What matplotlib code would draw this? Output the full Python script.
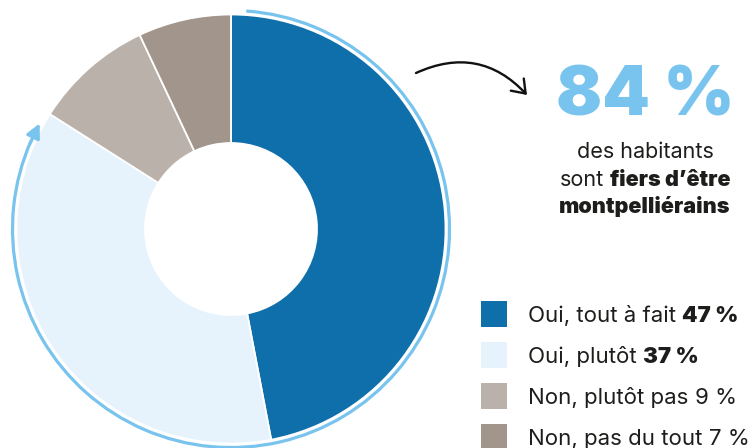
import matplotlib
matplotlib.use('Agg')
import numpy as np
import matplotlib.pyplot as plt
from matplotlib.patches import Arc, FancyArrowPatch, Rectangle

# data
labels = ['Oui, tout à fait', 'Oui, plutôt', 'Non, plutôt pas', 'Non, pas du tout']
values = [47, 37, 9, 7]
value_bold = [True, True, False, False]
colors = ['#0f6fab', '#e6f2fc', '#bab1ab', '#a2958c']
headline = 84
headline_lines = [[('des habitants', 'normal')],
                  [('sont', 'normal'), ('fiers d\u2019être', 900)],
                  [('montpelliérains', 900)]]

W, H = 752, 448
FONT = 'Inter'
TXT = '#1d1d1b'
ACCENT = '#79c4ee'

fig = plt.figure(figsize=(W/100, H/100), dpi=100)
ax = fig.add_axes([0, 0, 1, 1])

cx, cy = 231, H - 229
R = 214.5
hole = 86
ax.pie(values, colors=colors, startangle=90, counterclock=False, radius=R, center=(cx, cy),
       wedgeprops=dict(width=R - hole, edgecolor='white', linewidth=1.3))
ax.set_xlim(0, W)
ax.set_ylim(0, H)
ax.set_aspect('equal')
ax.axis('off')

# light blue arc round the "oui" share, with arrow at its end
ring_r = 218.5
a_start = 90 - 4
a_tip = 90 - (values[0] + values[1]) * 3.6 + 360 + 3.5
arc = Arc((cx, cy), 2*ring_r, 2*ring_r, theta1=a_tip + 5, theta2=a_start, color=ACCENT, lw=2.3)
ax.add_patch(arc)
def on_ring(a):
    return (cx + ring_r*np.cos(np.radians(a)), cy + ring_r*np.sin(np.radians(a)))
ax.annotate('', xy=on_ring(a_tip), xytext=on_ring(a_tip + 6),
            arrowprops=dict(arrowstyle='-|>,head_length=0.7,head_width=0.35', color=ACCENT,
                            lw=2.3, mutation_scale=12, shrinkA=0, shrinkB=0))

# black curved arrow
ax.add_patch(FancyArrowPatch((416, H - 73), (527, H - 95), connectionstyle='arc3,rad=-0.36',
                             arrowstyle='->,head_length=0.55,head_width=0.4', mutation_scale=16,
                             lw=1.7, color='#111111', shrinkA=0, shrinkB=0))

# headline
ax.text(645, H - 115, f'{headline} %', ha='center', va='baseline', fontsize=49,
        fontweight=900, family=FONT, color=ACCENT)

r = fig.canvas.get_renderer()
def width_of(s, size, weight):
    t = ax.text(0, 0, s, fontsize=size, fontweight=weight, family=FONT)
    w = t.get_window_extent(r).width
    t.remove()
    return w

def put_runs(x, y, runs, size, align='left'):
    sp = width_of('x x', size, 'normal') - width_of('xx', size, 'normal')
    ws = [width_of(s, size, wt) for s, wt in runs]
    total = sum(ws) + sp*(len(runs) - 1)
    if align == 'center':
        x = x - total/2
    for (s, wt), w in zip(runs, ws):
        ax.text(x, y, s, fontsize=size, fontweight=wt, family=FONT, color=TXT,
                ha='left', va='baseline')
        x += w + sp

for i, line in enumerate(headline_lines):
    put_runs(645, H - (158 + 27.5*i), line, 15.5, align='center')

# legend
for i, (lab, v, b, c) in enumerate(zip(labels, values, value_bold, colors)):
    yc = H - (314 + 41*i)
    ax.add_patch(Rectangle((481, yc - 13), 26, 26, facecolor=c, edgecolor='none'))
    put_runs(528, yc - 8, [(lab, 'normal'), (f'{v} %', 900 if b else 'normal')], 16)

fig.savefig('out.png', dpi=100)
